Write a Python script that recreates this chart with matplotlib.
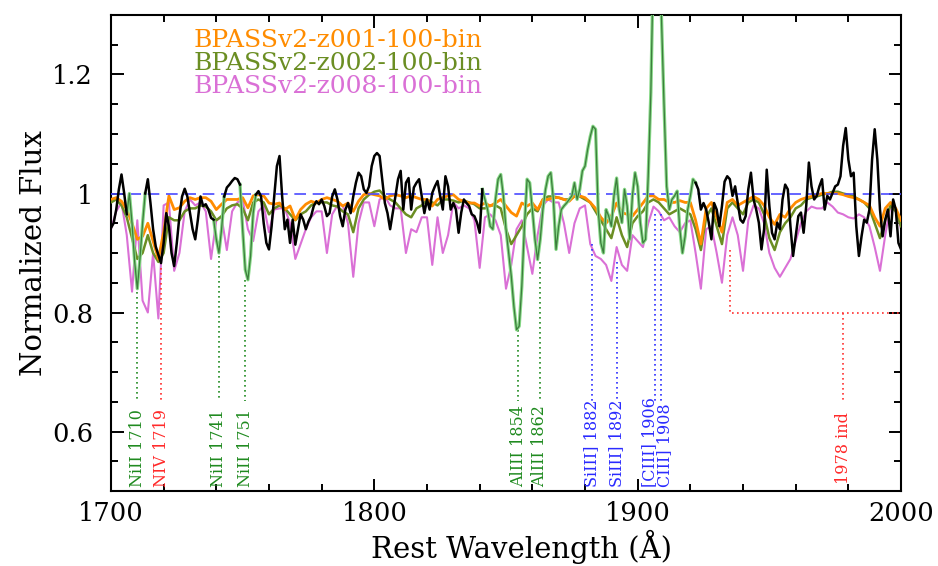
import numpy as np
import matplotlib
matplotlib.use("Agg")
import matplotlib.pyplot as plt
from matplotlib.ticker import MultipleLocator, FuncFormatter

plt.rcParams['font.family'] = ['DejaVu Serif']

# Observed spectrum, 1 A steps from 1700 to 2000
obs_start = 1700
obs_flux = [
    0.942, 0.950, 0.973, 1.007, 1.032, 1.001, 0.965, 1.000, 0.950, 0.885,
    0.840, 0.890, 0.950, 1.000, 1.024, 0.984, 0.940, 0.911, 0.897, 0.883,
    0.917, 0.967, 0.945, 0.900, 0.878, 0.917, 0.962, 0.995, 1.008, 0.995,
    0.967, 0.940, 0.923, 0.956, 0.995, 0.979, 0.982, 0.973, 0.959, 0.956,
    0.923, 0.900, 0.940, 0.995, 1.010, 1.015, 1.021, 1.026, 1.024, 1.015,
    0.940, 0.872, 0.855, 0.895, 0.967, 0.998, 1.004, 0.995, 0.950, 0.917,
    0.906, 0.945, 0.995, 1.046, 1.063, 0.995, 0.940, 0.956, 0.917, 0.956,
    0.914, 0.940, 0.965, 0.956, 0.940, 0.953, 0.962, 0.979, 0.987, 0.982,
    0.990, 0.979, 0.962, 0.967, 0.995, 1.007, 0.990, 0.962, 0.945, 0.973,
    0.984, 0.967, 0.995, 1.018, 1.035, 1.029, 1.007, 1.001, 1.012, 1.046,
    1.063, 1.068, 1.063, 1.024, 0.984, 0.967, 0.940, 0.967, 0.995, 1.024,
    1.038, 0.973, 1.018, 1.026, 0.973, 1.010, 1.018, 1.024, 0.995, 0.967,
    0.990, 0.973, 1.001, 1.012, 1.021, 0.996, 0.973, 1.029, 1.012, 0.973,
    0.984, 0.973, 0.934, 0.968, 0.990, 0.984, 0.979, 0.965, 0.962, 0.951,
    0.934, 1.007, 0.990, 0.973, 0.945, 0.940, 0.990, 1.024, 1.032, 0.996,
    0.940, 0.900, 0.861, 0.810, 0.771, 0.777, 0.844, 0.945, 1.024, 1.018,
    0.973, 0.923, 0.889, 0.923, 0.973, 1.007, 1.029, 1.035, 0.990, 0.906,
    0.945, 0.973, 0.979, 0.984, 0.990, 0.996, 1.018, 0.990, 1.007, 1.038,
    1.046, 1.074, 1.096, 1.113, 1.108, 0.973, 0.917, 0.900, 0.973, 0.962,
    0.945, 0.996, 1.026, 0.973, 0.951, 1.007, 0.979, 0.923, 0.996, 1.035,
    1.012, 0.951, 0.917, 0.923, 1.029, 1.170, 1.400, 1.450, 1.420, 1.300,
    1.150, 1.012, 0.973, 0.990, 0.996, 1.004, 0.940, 0.900, 0.928, 0.973,
    0.996, 1.024, 1.018, 1.007, 0.973, 0.984, 0.973, 0.951, 0.923, 0.984,
    0.973, 0.945, 0.979, 1.020, 1.029, 1.024, 0.996, 1.012, 0.984, 0.956,
    0.951, 0.962, 1.007, 1.035, 0.990, 0.973, 0.951, 0.906, 0.940, 1.040,
    0.979, 0.934, 0.923, 0.951, 0.940, 0.990, 1.015, 1.007, 0.945, 0.895,
    0.928, 0.962, 0.968, 0.934, 0.979, 1.052, 1.012, 0.990, 0.996, 1.012,
    1.024, 0.973, 0.996, 0.990, 1.001, 1.012, 1.015, 1.029, 1.080, 1.110,
    1.057, 1.029, 1.035, 0.945, 0.895, 0.928, 0.956, 0.951, 0.973, 1.057,
    1.108, 1.057, 0.973, 0.928, 0.956, 0.973, 0.928, 0.990, 0.973, 0.917,
    0.906,
]
# wavelength windows where the second (green) spectrum is shown instead
masked_windows = [(1706, 1713), (1739, 1743), (1749, 1755), (1841, 1922)]

# BPASS model spectra, 2 A steps from 1700 to 2000
model_start = 1700
z001_flux = [
    0.990, 0.993, 0.987, 0.973, 0.950, 0.923, 0.928, 0.950, 0.920, 0.890,
    0.935, 0.996, 0.973, 0.976, 0.987, 0.993, 0.990, 0.993, 0.993, 0.987,
    0.973, 0.982, 0.990, 0.990, 0.990, 0.993, 0.976, 0.996, 0.998, 0.996,
    0.984, 0.982, 0.984, 0.973, 0.979, 0.956, 0.973, 0.982, 0.987, 0.984,
    0.990, 0.993, 0.990, 0.987, 0.979, 0.984, 0.970, 0.987, 0.998, 1.000,
    0.998, 0.996, 0.990, 0.996, 0.998, 0.996, 0.993, 0.996, 0.993, 0.990,
    0.990, 0.979, 0.990, 0.993, 0.996, 0.998, 0.990, 0.987, 0.984, 0.984,
    0.979, 0.984, 0.979, 0.984, 0.990, 0.979, 0.968, 0.962, 0.984, 0.979,
    0.984, 0.973, 0.990, 0.990, 0.993, 0.993, 0.990, 0.987, 0.996, 0.996,
    0.993,
    0.985, 0.975, 0.960, 0.950, 0.962, 0.984, 0.968, 0.965, 0.962, 0.973,
    0.984, 0.996, 0.996, 0.990, 0.990, 0.985, 0.985, 0.988, 0.985, 0.985,
    0.955, 0.915, 0.975, 0.985, 0.960, 0.935, 0.985, 0.990, 0.980, 0.985,
    0.990, 0.995, 0.990, 0.980, 0.960, 0.948, 0.965, 0.960, 0.975, 0.985,
    0.990, 0.993, 0.995, 0.998, 1.000, 1.000, 1.000, 1.000, 0.998, 0.995,
    0.993, 0.990, 0.985, 0.980, 0.960, 0.945, 0.975, 0.985, 0.975, 0.955,
]
z002_flux = [
    0.985, 0.990, 0.980, 0.960, 0.925, 0.890, 0.900, 0.930, 0.900, 0.885,
    0.900, 0.960, 0.955, 0.955, 0.970, 0.975, 0.975, 0.980, 0.978, 0.970,
    0.955, 0.962, 0.975, 0.980, 0.982, 0.975, 0.955, 0.985, 0.990, 0.985,
    0.965, 0.975, 0.980, 0.975, 0.965, 0.955, 0.965, 0.970, 0.980, 0.985,
    0.985, 0.985, 0.980, 0.978, 0.970, 0.965, 0.935, 0.975, 0.990, 0.998,
    1.003, 1.005, 0.995, 0.990, 0.985, 0.975, 0.965, 0.960, 0.975, 0.980,
    0.990, 0.985, 0.980, 0.990, 0.990, 0.988, 0.985, 0.988, 0.985, 0.982,
    0.975, 0.975, 0.980, 0.980, 0.975, 0.940, 0.915, 0.930, 0.945, 0.965,
    0.975, 0.970, 0.990, 0.995, 0.995, 0.993, 0.990, 0.990, 0.995, 0.995,
    0.990,
    0.985, 0.970, 0.955, 0.940, 0.925, 0.960, 0.930, 0.910, 0.950, 0.962,
    0.970, 0.985, 0.990, 0.985, 0.975, 0.965, 0.970, 0.975, 0.970, 0.965,
    0.940, 0.905, 0.960, 0.975, 0.945, 0.915, 0.975, 0.985, 0.975, 0.965,
    0.985, 0.990, 0.985, 0.965, 0.925, 0.905, 0.935, 0.950, 0.960, 0.975,
    0.980, 0.990, 0.993, 0.995, 0.998, 1.000, 1.003, 1.003, 1.000, 0.998,
    0.995, 0.990, 0.985, 0.975, 0.950, 0.925, 0.955, 0.980, 0.970, 0.945,
]
z008_flux = [
    0.940, 0.970, 0.985, 0.930, 0.835, 0.955, 0.820, 0.800, 0.900, 0.790,
    0.980, 0.985, 0.870, 0.900, 0.970, 0.990, 0.980, 0.985, 0.970, 0.890,
    0.955, 0.960, 0.905, 0.970, 0.985, 0.990, 0.940, 0.920, 0.970, 0.980,
    0.935, 0.973, 0.975, 0.975, 0.950, 0.890, 0.915, 0.940, 0.960, 0.970,
    0.970, 0.900, 0.965, 0.980, 0.980, 0.950, 0.860, 0.950, 0.985, 0.985,
    0.945, 0.990, 0.995, 0.980, 0.975, 0.975, 0.900, 0.940, 0.935, 0.960,
    0.960, 0.880, 0.960, 0.900, 0.930, 0.985, 0.975, 0.980, 0.975, 0.955,
    0.875, 0.960, 0.965, 0.955, 0.930, 0.840, 0.880, 0.940, 0.955, 0.910,
    0.865, 0.930, 0.980, 0.990, 0.985, 0.985, 0.950, 0.900, 0.950, 0.975,
    0.980,
    0.915, 0.895, 0.890, 0.880, 0.853, 0.910, 0.880, 0.870, 0.930, 0.920,
    0.910, 0.950, 0.978, 0.970, 0.955, 0.960, 0.945, 0.935, 0.950, 0.955,
    0.900, 0.840, 0.940, 0.945, 0.900, 0.850, 0.930, 0.960, 0.930, 0.870,
    0.955, 0.980, 0.975, 0.950, 0.900, 0.875, 0.860, 0.875, 0.890, 0.920,
    0.950, 0.970, 0.978, 0.975, 0.975, 0.985, 0.978, 0.968, 0.965, 0.960,
    0.958, 0.965, 0.960, 0.945, 0.910, 0.870, 0.930, 0.980, 0.975, 0.940,
]
model_names = ["BPASSv2-z001-100-bin", "BPASSv2-z002-100-bin", "BPASSv2-z008-100-bin"]
model_colors = ["#ff8c00", "#6b8e23", "#da70d6"]

# absorption / emission line identifications
line_names = ["NiII 1710", "NIV 1719", "NiII 1741", "NiII 1751", "AlIII 1854",
              "AlIII 1862", "SiIII] 1882", "SiIII] 1892", "[CIII] 1906", "CIII] 1908"]
line_waves = [1710, 1719, 1741, 1751, 1854.7, 1862.8, 1882.5, 1892.0, 1906.7, 1908.7]
label_waves = [1710, 1719, 1741, 1751, 1854.7, 1862.8, 1882.5, 1892.0, 1904.4, 1910.4]
line_tops = [0.835, 0.875, 0.895, 0.855, 0.77, 0.885, 0.915, 0.885, 0.965, 0.965]
line_colors = ["#1f8a1f", "#ff2a2a", "#1f8a1f", "#1f8a1f", "#1f8a1f",
               "#1f8a1f", "#2a2aff", "#2a2aff", "#2a2aff", "#2a2aff"]
# 1978 blend indicator: bracket over the 1935-2000 region
ind_name = "1978 ind"
ind_wave = 1978
ind_range = (1935, 2000)
ind_top = 0.905
ind_level = 0.8
label_bottom = 0.652

obs_wave = obs_start + np.arange(len(obs_flux))
obs = np.array(obs_flux)
model_wave = model_start + 2 * np.arange(len(z001_flux))

black = obs.copy()
green = np.full_like(obs, np.nan)
for lo, hi in masked_windows:
    black[(obs_wave > lo) & (obs_wave < hi)] = np.nan
    sel = (obs_wave >= lo) & (obs_wave <= hi)
    green[sel] = obs[sel]

fig = plt.figure(figsize=(9.38, 5.66), dpi=100)
ax = fig.add_axes([0.1183, 0.1325, 0.8423, 0.841])

ax.plot(model_wave, z008_flux, color=model_colors[2], lw=1.5, zorder=2)
ax.plot(model_wave, z002_flux, color=model_colors[1], lw=1.8, zorder=3)
ax.plot(model_wave, z001_flux, color=model_colors[0], lw=2.0, zorder=4)
ax.axhline(1.0, color="#4a4aff", lw=1.2, dashes=(7, 4), zorder=4.5)
ax.plot(obs_wave, green, color="#86d886", lw=2.4, zorder=6)
ax.plot(obs_wave, green, color="#3d7d3d", lw=0.9, zorder=6.5)
ax.plot(obs_wave, black, color="black", lw=1.8, zorder=7)

# line markers and their labels
for name, w, lw_, top, c in zip(line_names, line_waves, label_waves, line_tops, line_colors):
    ax.plot([w, w], [top, label_bottom], color=c, lw=1.2, ls=(0, (1, 2)), zorder=3)
    ax.text(lw_, 0.506, name, rotation=90, ha="center", va="bottom", color=c,
            fontsize=11.5)
ax.plot([ind_range[0], ind_range[0], ind_range[1]], [ind_top, ind_level, ind_level],
        color="#ff3030", lw=1.2, ls=(0, (1, 2)), zorder=3, clip_on=False)
ax.plot([ind_wave, ind_wave], [ind_level, label_bottom], color="#ff3030", lw=1.2,
        ls=(0, (1, 2)), zorder=3)
ax.text(ind_wave, 0.511, ind_name, rotation=90, ha="center", va="bottom",
        color="#ff2a2a", fontsize=11.5)

# model names written in their line colours
for i, (name, c) in enumerate(zip(model_names, model_colors)):
    ax.text(0.104, 0.9328 - i * 0.0483, name, transform=ax.transAxes, color=c,
            fontsize=18, va="baseline")

ax.set_xlim(1700, 2000)
ax.set_ylim(0.5, 1.3)
ax.xaxis.set_major_locator(MultipleLocator(100))
ax.xaxis.set_minor_locator(MultipleLocator(20))
ax.yaxis.set_major_locator(MultipleLocator(0.2))
ax.yaxis.set_minor_locator(MultipleLocator(0.05))
ax.yaxis.set_major_formatter(FuncFormatter(lambda v, p: f"{v:g}"))
ax.tick_params(which="both", direction="in", top=True, right=True, width=1.4)
ax.tick_params(which="major", length=9, labelsize=18.5)
ax.tick_params(axis="x", which="major", pad=7)
ax.tick_params(axis="y", which="major", pad=13)
ax.tick_params(which="minor", length=5)
for sp in ax.spines.values():
    sp.set_linewidth(1.5)

ax.set_xlabel("Rest Wavelength (Å)", fontsize=21)
ax.set_ylabel("Normalized Flux", fontsize=21)
ax.xaxis.set_label_coords(0.52, -0.082)
ax.yaxis.set_label_coords(-0.08, 0.5)

fig.savefig("out.png", dpi=100)
